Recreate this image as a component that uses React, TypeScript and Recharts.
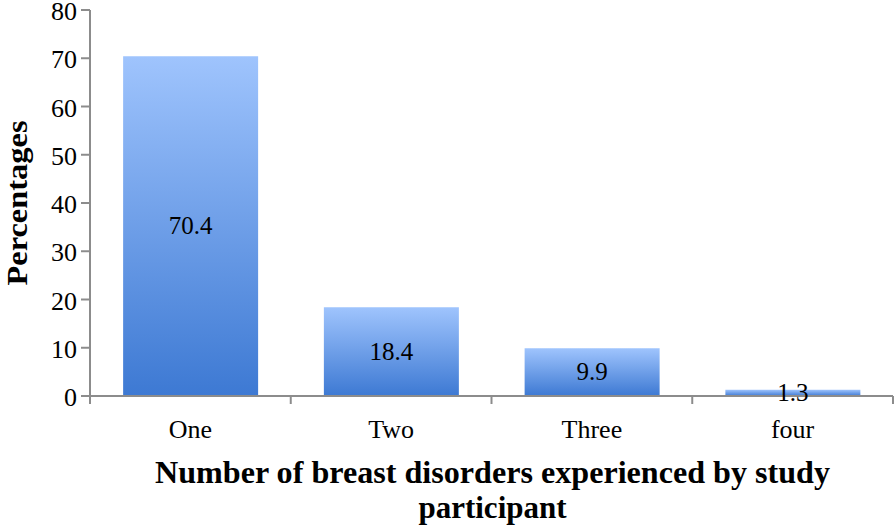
import React from "react";
import { BarChart, Bar, XAxis, YAxis } from "recharts";

const categories = ["One", "Two", "Three", "four"];
const percentages = [70.4, 18.4, 9.9, 1.3];
const yTicks = [0, 10, 20, 30, 40, 50, 60, 70, 80];

const data = categories.map((c, i) => ({ name: c, value: percentages[i] }));

const AXIS = "#8c8c8c";
const SERIF = "'Liberation Serif', 'Times New Roman', serif";

const XTick = (props: any) => {
  const { x, y, payload, index } = props;
  const half = payload && payload.offset ? payload.offset : 100.5;
  return (
    <g>
      <line x1={x - half} y1={y - 8} x2={x - half} y2={y} stroke={AXIS} strokeWidth={2} />
      {index === categories.length - 1 && (
        <line x1={x + half} y1={y - 8} x2={x + half} y2={y} stroke={AXIS} strokeWidth={2} />
      )}
      <text x={x} y={y + 34} textAnchor="middle" fontFamily={SERIF} style={{ fontFamily: SERIF, fontSize: 26 }} fill="#000">
        {payload.value}
      </text>
    </g>
  );
};

const YTick = (props: any) => {
  const { x, y, payload } = props;
  return (
    <text x={x - 2} y={y + 10} textAnchor="end" fontFamily={SERIF} style={{ fontFamily: SERIF, fontSize: 26 }} fill="#000">
      {payload.value}
    </text>
  );
};

const renderBarLabel = (props: any) => {
  const { x, y, width, height, value, index } = props;
  return (
    <text
      key={`lbl-${index}`}
      x={Number(x) + Number(width) / 2}
      y={Number(y) + Number(height) / 2 + 8}
      textAnchor="middle"
      fontFamily={SERIF}
      style={{ fontFamily: SERIF, fontSize: 25 }}
      fill="#000"
    >
      {value}
    </text>
  );
};

const XTitle = (props: any) => {
  const { viewBox } = props;
  const cx = viewBox.x + viewBox.width / 2;
  return (
    <text textAnchor="middle" style={{ fontFamily: SERIF, fontWeight: "bold", fontSize: 31 }} fill="#000">
      <tspan x={cx + 1} y={483} textLength={675} lengthAdjust="spacingAndGlyphs">
        Number of breast disorders experienced by study
      </tspan>
      <tspan x={cx + 1} y={518}>participant</tspan>
    </text>
  );
};

const YTitle = () => {
  return (
    <text
      x={27}
      y={203}
      transform="rotate(-90, 27, 203)"
      textAnchor="middle"
      textLength={165}
      lengthAdjust="spacingAndGlyphs"
      style={{ fontFamily: SERIF, fontWeight: "bold", fontSize: 30 }}
      fill="#000"
    >
      Percentages
    </text>
  );
};

export default function App() {
  return (
    <div style={{ position: "absolute", left: 0, top: 0, background: "#fff" }}>
      <BarChart
        width={895}
        height={526}
        data={data}
        margin={{ top: 10, right: 2, left: 0, bottom: 0 }}
        barCategoryGap="16.5%"
      >
        <defs>
          <linearGradient id="barGrad" x1="0" y1="0" x2="0" y2="1">
            <stop offset="0%" stopColor="#9fc4fd" />
            <stop offset="100%" stopColor="#3d79d3" />
          </linearGradient>
        </defs>
        <XAxis
          dataKey="name"
          height={130}
          axisLine={{ stroke: AXIS, strokeWidth: 2 }}
          tickLine={false}
          tick={<XTick />}
          interval={0}
          label={<XTitle />}
        />
        <YAxis
          domain={[0, 80]}
          ticks={yTicks}
          width={90}
          axisLine={{ stroke: AXIS, strokeWidth: 2 }}
          tickLine={{ stroke: AXIS, strokeWidth: 2 }}
          tickSize={9}
          tick={<YTick />}
          label={<YTitle />}
        />
        <Bar dataKey="value" fill="url(#barGrad)" isAnimationActive={false} label={renderBarLabel} />
      </BarChart>
    </div>
  );
}
